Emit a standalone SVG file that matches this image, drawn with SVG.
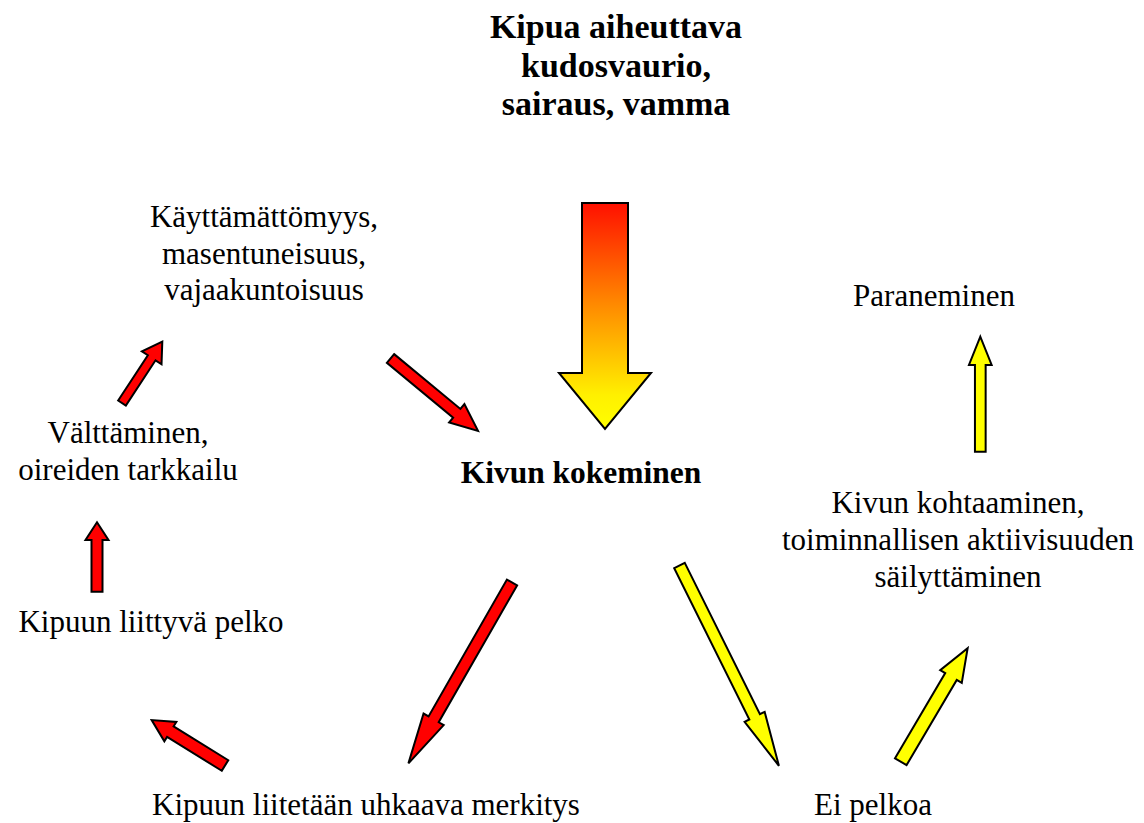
<svg xmlns="http://www.w3.org/2000/svg" width="1144" height="823" viewBox="0 0 1144 823">
<style>
.r{font-size:31px}
.b{font-weight:bold}
.arw{stroke:#000;stroke-width:2;stroke-linejoin:miter}
.red{fill:#ff0000}
.yel{fill:#ffff00}
</style>
<defs>
<linearGradient id="grad" gradientUnits="userSpaceOnUse" x1="0" y1="203" x2="0" y2="429">
<stop offset="0" stop-color="#ff1000"/>
<stop offset="0.45" stop-color="#ff8a00"/>
<stop offset="0.85" stop-color="#fff000"/>
<stop offset="1" stop-color="#ffff00"/>
</linearGradient>
</defs>
<rect width="1144" height="823" fill="#fff"/>
<g font-family="'Liberation Serif', 'Times New Roman', serif" fill="#000" text-anchor="middle">
<g id="title">
<text class="b" font-size="34" x="616" y="38">Kipua aiheuttava</text>
<text class="b" font-size="34" x="616" y="76.5">kudosvaurio,</text>
<text class="b" font-size="34" x="616" y="115">sairaus, vamma</text>
</g>
<g id="kivun-kokeminen"><text class="b" font-size="31.5" x="581" y="483">Kivun kokeminen</text></g>
<g id="kayttamattomyys">
<text class="r" x="264" y="227">Käyttämättömyys,</text>
<text class="r" x="264" y="264">masentuneisuus,</text>
<text class="r" x="264" y="300">vajaakuntoisuus</text>
</g>
<g id="valttaminen">
<text class="r" x="128" y="443">Välttäminen,</text>
<text class="r" x="128" y="480">oireiden tarkkailu</text>
</g>
<g id="pelko"><text class="r" x="151" y="632">Kipuun liittyvä pelko</text></g>
<g id="uhkaava"><text class="r" x="366" y="815">Kipuun liitetään uhkaava merkitys</text></g>
<g id="ei-pelkoa"><text class="r" x="873" y="815">Ei pelkoa</text></g>
<g id="paraneminen"><text class="r" x="934" y="306">Paraneminen</text></g>
<g id="kohtaaminen">
<text class="r" x="958" y="513">Kivun kohtaaminen,</text>
<text class="r" x="958" y="550">toiminnallisen aktiivisuuden</text>
<text class="r" x="958" y="587">säilyttäminen</text>
</g>
</g>
<g id="connectors">
<polygon class="arw" fill="url(#grad)" points="582,203 628,203 628,373 651,373 605,429 559,373 582,373"/>
<g transform="translate(390.5,358.5) rotate(39.6)"><polygon class="arw red" points="0,-5.7 86,-5.7 86,-12 113.6,0 86,12 86,5.7 0,5.7"/></g>
<g transform="translate(512,582.5) rotate(119.8)"><polygon class="arw red" points="0,-5.85 157.7,-5.85 157.7,-11.6 208.4,0 157.7,11.6 157.7,5.85 0,5.85"/></g>
<g transform="translate(679.5,565.5) rotate(63.6)"><polygon class="arw yel" points="0,-5.9 169,-5.9 169,-11.2 223.6,0 169,11.2 169,5.9 0,5.9"/></g>
<g transform="translate(122,403) rotate(-56.7)"><polygon class="arw red" points="0,-4.6 54.1,-4.6 54.1,-11.75 73.4,0 54.1,11.75 54.1,4.6 0,4.6"/></g>
<g transform="translate(97,591.7) rotate(-90)"><polygon class="arw red" points="0,-5.5 51.7,-5.5 51.7,-11.5 69.4,0 51.7,11.5 51.7,5.5 0,5.5"/></g>
<g transform="translate(225,765.5) rotate(-148.2)"><polygon class="arw red" points="0,-6.2 64.3,-6.2 64.3,-11.4 86.3,0 64.3,11.4 64.3,6.2 0,6.2"/></g>
<g transform="translate(900.8,761.7) rotate(-59.5)"><polygon class="arw yel" points="0,-6.7 98.9,-6.7 98.9,-12.5 131.7,0 98.9,12.5 98.9,6.7 0,6.7"/></g>
<g transform="translate(980.3,451.7) rotate(-90)"><polygon class="arw yel" points="0,-5.35 86.7,-5.35 86.7,-11.35 115,0 86.7,11.35 86.7,5.35 0,5.35"/></g>
</g>
</svg>
